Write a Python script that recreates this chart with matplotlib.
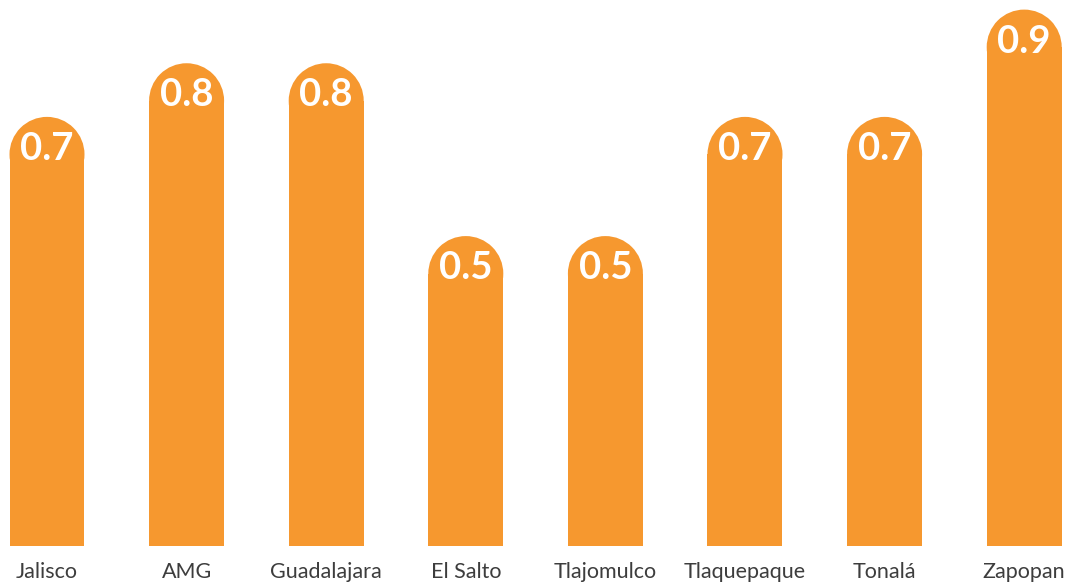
import matplotlib
matplotlib.use("Agg")
import matplotlib.pyplot as plt
from matplotlib.patches import Ellipse

categories = ["Jalisco", "AMG", "Guadalajara", "El Salto", "Tlajomulco",
              "Tlaquepaque", "Tonalá", "Zapopan"]
values = [0.72, 0.81, 0.81, 0.52, 0.52, 0.72, 0.72, 0.90]
labels = ["0.7", "0.8", "0.8", "0.5", "0.5", "0.7", "0.7", "0.9"]

W, H, DPI = 1080, 584, 100
BAR = "#F6982F"

fig = plt.figure(figsize=(W / DPI, H / DPI), dpi=DPI)
bottom_px = 546
ax = fig.add_axes([0, (H - bottom_px) / H, 1, bottom_px / H])
px_per_y = 596.0
px_per_x = 139.6
x0_px = 47.0
ax.set_ylim(0, bottom_px / px_per_y)
ax.set_xlim(-x0_px / px_per_x, (W - x0_px) / px_per_x)
ax.axis("off")

bw = 75 / px_per_x
ry = (75 / 2) / px_per_y
xs = list(range(len(categories)))
ax.bar(xs, [v - ry for v in values], width=bw, color=BAR, linewidth=0)
for x, v, lab in zip(xs, values, labels):
    ax.add_patch(Ellipse((x, v - ry), bw, 2 * ry, color=BAR, linewidth=0))
    ax.text(x, v - 32 / px_per_y, lab, ha="center", va="center", color="white",
            fontsize=27.5, fontweight="bold", family="Lato")

for x, c in zip(xs, categories):
    ax.text(x, -(578 - bottom_px) / px_per_y, c, ha="center", va="baseline",
            color="#3d3d3d", fontsize=15.5, family="Lato", clip_on=False)

fig.savefig("out.png", dpi=DPI)
